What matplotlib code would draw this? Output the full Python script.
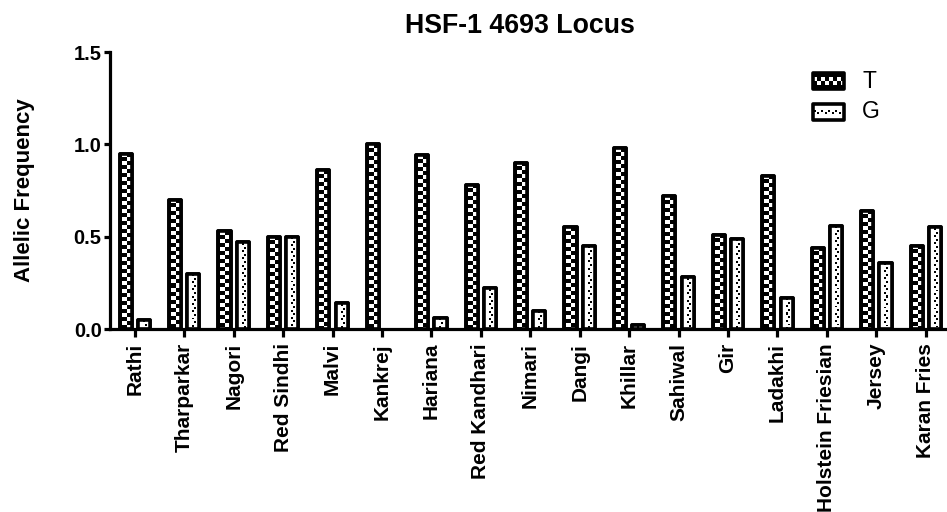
import numpy as np
import matplotlib
matplotlib.use("Agg")
import matplotlib.pyplot as plt
from matplotlib.patches import Rectangle

plt.rcParams['font.family'] = ['Liberation Sans', 'DejaVu Sans']

# breeds and allele frequencies
breeds = ['Rathi', 'Tharparkar', 'Nagori', 'Red Sindhi', 'Malvi', 'Kankrej',
          'Hariana', 'Red Kandhari', 'Nimari', 'Dangi', 'Khillar', 'Sahiwal',
          'Gir', 'Ladakhi', 'Holstein Friesian', 'Jersey', 'Karan Fries']
freq_T = [0.95, 0.70, 0.53, 0.50, 0.86, 1.00, 0.94, 0.78, 0.90, 0.55, 0.98,
          0.72, 0.51, 0.83, 0.44, 0.64, 0.45]
freq_G = [0.05, 0.30, 0.47, 0.50, 0.14, 0.00, 0.06, 0.22, 0.10, 0.45, 0.02,
          0.28, 0.49, 0.17, 0.56, 0.36, 0.55]

SUB = 4  # sub-pixels per screen pixel for the fill patterns


def checker(wpx, hpx, cell=4.0):
    # black with white squares in two staggered columns
    ny, nx = max(int(round(hpx * SUB)), 1), max(int(round(wpx * SUB)), 1)
    yy, xx = np.mgrid[0:ny, 0:nx] / SUB
    band = (yy // cell).astype(int) % 2
    cx = wpx / 2.0
    left = (xx >= cx - cell) & (xx < cx)
    right = (xx >= cx) & (xx < cx + cell)
    white = (left & (band == 0)) | (right & (band == 1))
    return np.where(white, 1.0, 0.0)


def dots(wpx, hpx, step=3.6, r=1.0):
    # white with small black dots, alternating left/right of centre
    ny, nx = max(int(round(hpx * SUB)), 1), max(int(round(wpx * SUB)), 1)
    yy, xx = np.mgrid[0:ny, 0:nx] / SUB
    row = (yy // step).astype(int)
    ym = yy - (row + 0.5) * step
    cx = wpx / 2.0 + np.where(row % 2 == 0, -1.0, 1.0)
    dot = (np.abs(xx - cx) < r) & (np.abs(ym) < r)
    return np.where(dot, 0.0, 1.0)


x = np.arange(len(breeds))
w = 0.245
off = 0.185
edge_lw = 2.6

fig = plt.figure(figsize=(9.47, 5.12), dpi=100)
ax = fig.add_axes([0.1162, 0.3574, 0.8838, 0.541])
ax.set_xlim(-0.5, 16.43)
ax.set_ylim(0, 1.5)

# zero-height bars get no outline (nothing is drawn in the original)
lw_T = [edge_lw if v > 0 else 0 for v in freq_T]
lw_G = [edge_lw if v > 0 else 0 for v in freq_G]
bars_T = ax.bar(x - off, freq_T, w, facecolor='black', edgecolor='black',
                linewidth=lw_T, joinstyle='round', zorder=2)
bars_G = ax.bar(x + off, freq_G, w, facecolor='white', edgecolor='black',
                linewidth=lw_G, joinstyle='round', zorder=2)


def fill_pattern(bars, maker):
    for b in bars:
        x0, y0 = b.get_x(), b.get_y()
        x1, y1 = x0 + b.get_width(), y0 + b.get_height()
        if y1 - y0 <= 0:
            continue
        p0 = ax.transData.transform((x0, y0))
        p1 = ax.transData.transform((x1, y1))
        img = maker(p1[0] - p0[0], p1[1] - p0[1])
        im = ax.imshow(img, cmap='gray', vmin=0, vmax=1, extent=(x0, x1, y0, y1),
                       interpolation='nearest', aspect='auto', zorder=2.5)
        im.set_clip_path(b)
        # outline again on top of the pattern
        ax.add_patch(Rectangle((x0, y0), x1 - x0, y1 - y0, fill=False, edgecolor='black',
                               linewidth=edge_lw, joinstyle='round', zorder=3))


fill_pattern(bars_T, checker)
fill_pattern(bars_G, dots)

ax.set_xlim(-0.5, 16.43)
ax.set_ylim(0, 1.5)
ax.set_yticks([0.0, 0.5, 1.0, 1.5])
ax.set_yticklabels(['0.0', '0.5', '1.0', '1.5'])
ax.set_xticks(x)
ax.set_xticklabels(breeds, rotation=90, fontweight='bold', fontsize=15)
for lab in ax.get_yticklabels():
    lab.set_fontweight('bold')
    lab.set_fontsize(14.5)

ax.spines['top'].set_visible(False)
ax.spines['right'].set_visible(False)
ax.spines['left'].set_linewidth(2.3)
ax.spines['bottom'].set_linewidth(2.3)
ax.spines['bottom'].set_zorder(4)
ax.tick_params(axis='x', length=6, width=2.3, pad=4)
ax.tick_params(axis='y', length=4, width=2.3, pad=2)

ax.set_ylabel('Allelic Frequency', fontsize=16, fontweight='bold', labelpad=28)
ax.set_title('HSF-1 4693 Locus', fontsize=19.3, fontweight='bold', pad=14, x=0.49)

# legend drawn by hand so the swatches carry the same fill patterns
legend_items = [('T', checker, 73), ('G', dots, 104)]
for label, maker, top in legend_items:
    sw, sh = 31, 16
    left = 813
    lax = fig.add_axes([left / 947, 1 - (top + sh) / 512, sw / 947, sh / 512])
    lax.set_xlim(0, 1)
    lax.set_ylim(0, 1)
    lax.axis('off')
    img = maker(sh, sw).T
    lax.imshow(img, cmap='gray', vmin=0, vmax=1, extent=(0, 1, 0, 1),
               interpolation='nearest', aspect='auto')
    lax.add_patch(Rectangle((0, 0), 1, 1, fill=False, edgecolor='black', linewidth=edge_lw,
                            joinstyle='round', clip_on=False))
    fig.text(862 / 947, 1 - (top + sh / 2) / 512, label, fontsize=16.5, va='center', ha='left')

fig.savefig('out.png', dpi=100)
